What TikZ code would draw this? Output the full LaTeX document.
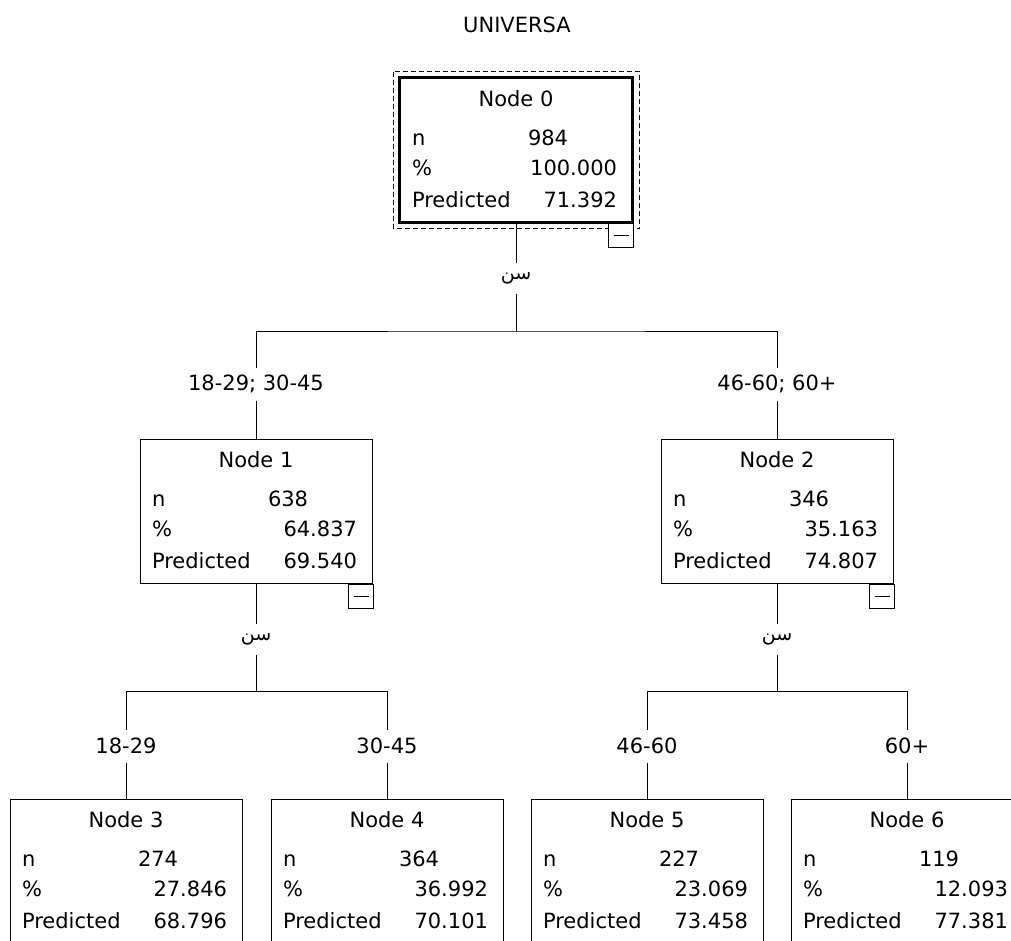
\documentclass[tikz,border=0pt]{standalone}
\usepackage{fontspec}
\setmainfont{DejaVu Sans}
\newfontfamily\arabicfont[Script=Arabic]{DejaVu Sans}
\TeXXeTstate=1
\tikzset{
	treebox/.style={draw, line width=1pt, minimum width=232pt, minimum height=144pt, inner sep=0pt},
	treetext/.style={inner sep=0pt, font=\fontsize{21}{25}\selectfont},
	splitlabel/.style={inner sep=0pt, minimum height=30pt, font=\arabicfont\fontsize{19}{23}\selectfont},
	catlabel/.style={inner sep=0pt, minimum height=32pt, font=\fontsize{21}{25}\selectfont},
	minusbox/.style={draw, fill=white, line width=1pt}
}
\begin{document}
\begin{tikzpicture}[x=1pt,y=-1pt,line width=1pt]
	\useasboundingbox (0,0) rectangle (1011,940);
	\clip (0,0) rectangle (1011,940);
	\fill[white] (0,0) rectangle (1011,940);
	\def\yA{150};
	\def\yB{511};
	\def\yC{871};
	\node[treetext] (title) at (517,25) {UNIVERSA};
	% boxes of the tree
	\foreach \i/\cx/\cy/\nn/\pc/\pr in {0/516/\yA/984/100.000/71.392, 1/256/\yB/638/64.837/69.540, 2/777/\yB/346/35.163/74.807, 3/126/\yC/274/27.846/68.796, 4/387/\yC/364/36.992/70.101, 5/647/\yC/227/23.069/73.458, 6/907/\yC/119/12.093/77.381}{
		\node[treebox] (n\i) at (\cx,\cy) {};
		\node[treetext, anchor=base] at ([shift={(0,29)}]n\i.north) {Node \i};
		\node[treetext, anchor=base west] at ([shift={(12,68)}]n\i.north west) {n};
		\node[treetext, anchor=base west] at ([shift={(128,68)}]n\i.north west) {\nn};
		\node[treetext, anchor=base west] at ([shift={(12,98)}]n\i.north west) {\%};
		\node[treetext, anchor=base east] at ([shift={(218,98)}]n\i.north west) {\pc};
		\node[treetext, anchor=base west] at ([shift={(12,130)}]n\i.north west) {Predicted};
		\node[treetext, anchor=base east] at ([shift={(218,130)}]n\i.north west) {\pr};
	}
	\draw[line width=3pt] (n0.north west) rectangle (n0.south east);
	\draw[dash pattern=on 5pt off 3pt] ([shift={(-6,-6)}]n0.north west) rectangle ([shift={(7,6)}]n0.south east);
	\foreach \i in {0,1,2}{
		\draw[minusbox] ([shift={(-24,1)}]n\i.south east) rectangle ([shift={(1,25)}]n\i.south east);
		\draw ([shift={(-19,13)}]n\i.south east) -- ([shift={(-4,13)}]n\i.south east);
	}
	% first split
	\node[splitlabel] (s0) at (516,278) {\beginR سن\endR};
	\coordinate (j0) at (516,331);
	\node[catlabel] (l1) at (256,384) {18-29; 30-45};
	\node[catlabel] (l2) at (777,384) {46-60; 60+};
	\draw (n0) -- (s0);
	\draw (s0) -- (j0);
	\draw (l1) |- (j0) -| (l2);
	\draw (l1) -- (n1);
	\draw (l2) -- (n2);
	% second level splits
	\node[splitlabel] (s1) at (256,639) {\beginR سن\endR};
	\node[splitlabel] (s2) at (777,639) {\beginR سن\endR};
	\coordinate (j1) at (256,691);
	\coordinate (j2) at (777,691);
	\node[catlabel] (l3) at (126,746) {18-29};
	\node[catlabel] (l4) at (387,746) {30-45};
	\node[catlabel] (l5) at (647,746) {46-60};
	\node[catlabel] (l6) at (907,746) {60+};
	\draw (n1) -- (s1);
	\draw (s1) -- (j1);
	\draw (n2) -- (s2);
	\draw (s2) -- (j2);
	\draw (l3) |- (j1) -| (l4);
	\draw (l5) |- (j2) -| (l6);
	\foreach \i in {3,4,5,6} \draw (l\i) -- (n\i);
\end{tikzpicture}
\end{document}
